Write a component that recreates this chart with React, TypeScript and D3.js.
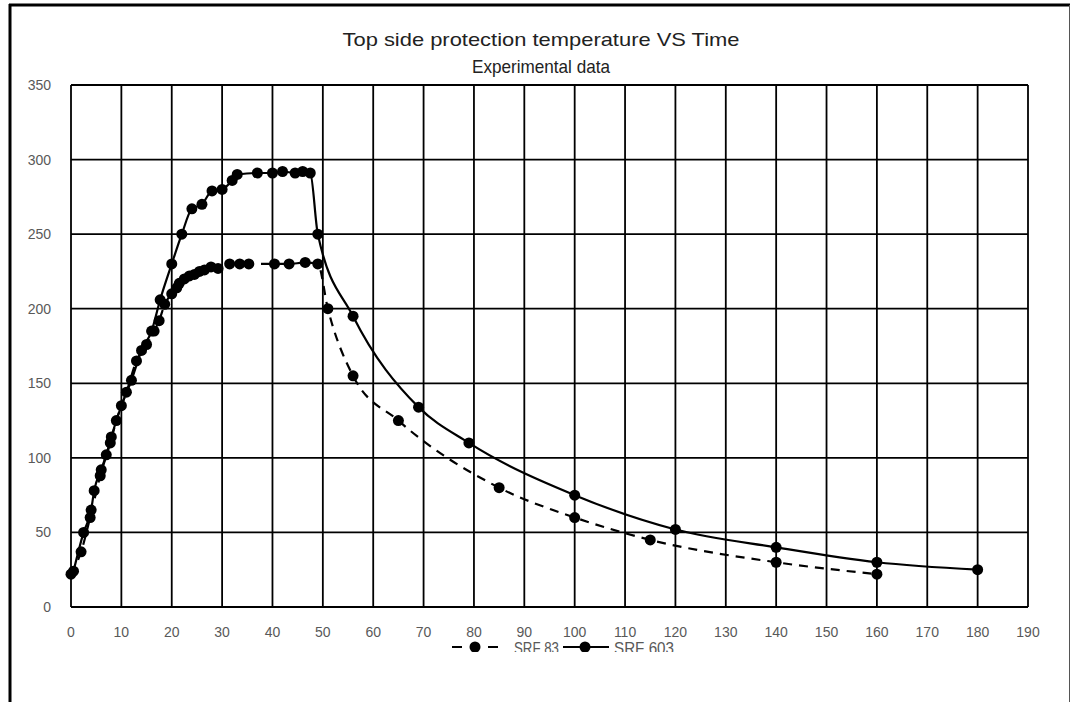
import React, { useEffect, useRef } from 'react';
import * as d3 from 'd3';

// time (min), temperature
const srf83Time = [0, 2, 3.8, 5.8, 7.8, 9, 11, 13, 15, 16.5, 17.5, 18.6, 20, 21, 21.5, 22.5, 23.5, 24.5, 25.5, 26.5, 27.8, 29.2, 31.5, 33.5, 35.3, 40.4, 43.3, 46.5, 49, 51, 56, 65, 85, 100, 115, 140, 160];
const srf83Temp = [22, 37, 60, 88, 110, 125, 144, 165, 176, 185, 192, 203, 210, 214, 217, 220, 222, 223, 225, 226, 228, 227, 230, 230, 230, 230, 230, 231, 230, 200, 155, 125, 80, 60, 45, 30, 22];

const srf603Time = [0.5, 2.5, 4, 4.6, 6, 7, 8, 10, 12, 14, 16, 17.7, 20, 22, 24, 26, 28, 30, 32, 33, 37, 40, 42, 44.5, 46, 47.5, 49, 56, 69, 79, 100, 120, 140, 160, 180];
const srf603Temp = [24, 50, 65, 78, 92, 102, 114, 135, 152, 172, 185, 206, 230, 250, 267, 270, 279, 280, 286, 290, 291, 291, 292, 291, 292, 291, 250, 195, 134, 110, 75, 52, 40, 30, 25];

const xTicks = d3.range(0, 200, 10);
const yTicks = [0, 50, 100, 150, 200, 250, 300, 350];

const titleLines = ['Top side protection temperature VS Time', 'Experimental data'];
const seriesNames = ['SRF 83', 'SRF 603'];

const W = 1072;
const H = 702;

export default function App() {
  const svgRef = useRef<SVGSVGElement>(null);

  useEffect(() => {
    if (!svgRef.current) return;
    const svg = d3.select(svgRef.current);
    svg.selectAll('*').remove();

    const x = d3.scaleLinear().domain([0, 190]).range([71, 1028]);
    const y = d3.scaleLinear().domain([0, 350]).range([607, 85]);
    const font = "'Liberation Sans', Arial, sans-serif";

    svg.append('rect').attr('width', W).attr('height', H).attr('fill', '#fff');

    // outer frame
    svg.append('line').attr('x1', 9).attr('x2', 1070).attr('y1', 5).attr('y2', 5)
      .attr('stroke', '#000').attr('stroke-width', 3);
    svg.append('line').attr('x1', 10).attr('x2', 10).attr('y1', 4).attr('y2', H)
      .attr('stroke', '#000').attr('stroke-width', 3);
    svg.append('line').attr('x1', 1069.5).attr('x2', 1069.5).attr('y1', 5).attr('y2', H)
      .attr('stroke', '#555').attr('stroke-width', 1);

    // title
    svg.selectAll('text.title')
      .data(titleLines)
      .join('text')
      .attr('class', 'title')
      .attr('x', 541)
      .attr('y', (d, i) => 46 + i * 27)
      .attr('text-anchor', 'middle')
      .attr('font-family', font)
      .attr('font-size', 19)
      .attr('fill', '#222')
      .attr('textLength', (d, i) => (i === 0 ? 397 : 138))
      .attr('lengthAdjust', 'spacingAndGlyphs')
      .text(d => d);

    // grid
    const grid = svg.append('g').attr('stroke', '#000').attr('stroke-width', 1.8);
    grid.selectAll('line.v')
      .data(xTicks)
      .join('line')
      .attr('class', 'v')
      .attr('x1', d => x(d)).attr('x2', d => x(d))
      .attr('y1', y(350)).attr('y2', y(0));
    grid.selectAll('line.h')
      .data(yTicks)
      .join('line')
      .attr('class', 'h')
      .attr('x1', x(0)).attr('x2', x(190))
      .attr('y1', d => y(d)).attr('y2', d => y(d));

    // tick labels
    svg.append('g')
      .selectAll('text')
      .data(xTicks)
      .join('text')
      .attr('x', d => x(d))
      .attr('y', 637)
      .attr('text-anchor', 'middle')
      .attr('font-family', font)
      .attr('font-size', 14)
      .attr('fill', '#595959')
      .text(d => d);
    svg.append('g')
      .selectAll('text')
      .data(yTicks)
      .join('text')
      .attr('x', 51)
      .attr('y', d => y(d) + 5)
      .attr('text-anchor', 'end')
      .attr('font-family', font)
      .attr('font-size', 14)
      .attr('fill', '#595959')
      .text(d => d);

    const line = d3.line<[number, number]>()
      .x(d => x(d[0]))
      .y(d => y(d[1]))
      .curve(d3.curveMonotoneX);

    const s83: [number, number][] = srf83Time.map((t, i) => [t, srf83Temp[i]]);
    const s603: [number, number][] = srf603Time.map((t, i) => [t, srf603Temp[i]]);

    svg.append('path').datum(s83)
      .attr('d', line)
      .attr('fill', 'none')
      .attr('stroke', '#000')
      .attr('stroke-width', 2.2)
      .attr('stroke-dasharray', '9,7');
    svg.append('path').datum(s603)
      .attr('d', line)
      .attr('fill', 'none')
      .attr('stroke', '#000')
      .attr('stroke-width', 2.2);

    [s83, s603].forEach(s => {
      svg.append('g')
        .selectAll('circle')
        .data(s)
        .join('circle')
        .attr('cx', d => x(d[0]))
        .attr('cy', d => y(d[1]))
        .attr('r', 5.5)
        .attr('fill', '#000');
    });

    // legend (bottom is clipped like the source)
    svg.append('clipPath').attr('id', 'legclip')
      .append('rect').attr('x', 0).attr('y', 0).attr('width', W).attr('height', 652);
    const leg = svg.append('g').attr('clip-path', 'url(#legclip)');
    const ly = 647;
    leg.append('line').attr('x1', 452).attr('x2', 498).attr('y1', ly).attr('y2', ly)
      .attr('stroke', '#000').attr('stroke-width', 2.2).attr('stroke-dasharray', '10,26');
    leg.append('circle').attr('cx', 475).attr('cy', ly).attr('r', 5.5).attr('fill', '#000');
    leg.append('line').attr('x1', 563).attr('x2', 609).attr('y1', ly).attr('y2', ly)
      .attr('stroke', '#000').attr('stroke-width', 2.2);
    leg.append('circle').attr('cx', 585).attr('cy', ly).attr('r', 5.5).attr('fill', '#000');
    leg.selectAll('text')
      .data(seriesNames)
      .join('text')
      .attr('x', (d, i) => (i === 0 ? 514 : 614))
      .attr('y', ly + 7)
      .attr('font-family', font)
      .attr('font-size', 17)
      .attr('fill', '#595959')
      .attr('textLength', (d, i) => (i === 0 ? 45 : 60))
      .attr('lengthAdjust', 'spacingAndGlyphs')
      .text(d => d);
  }, []);

  return (
    <svg
      ref={svgRef}
      width={W}
      height={H}
      style={{ position: 'absolute', left: 0, top: 0, display: 'block' }}
    />
  );
}
